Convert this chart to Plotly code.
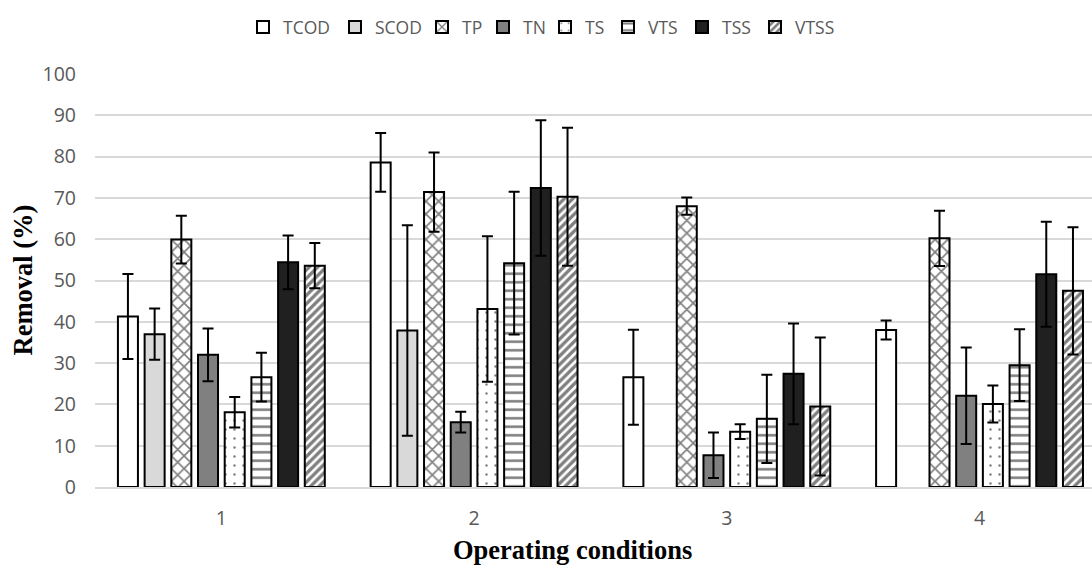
import plotly.graph_objects as go

conditions = ["1", "2", "3", "4"]
series = ["TCOD", "SCOD", "TP", "TN", "TS", "VTS", "TSS", "VTSS"]

tcod = [41.3, 78.6, 26.6, 38.0]
tcod_err = [10.3, 7.1, 11.5, 2.3]
scod = [37.0, 37.9, None, None]
scod_err = [6.2, 25.5, 0, 0]
tp = [59.9, 71.4, 68.0, 60.2]
tp_err = [5.8, 9.6, 2.1, 6.7]
tn = [32.0, 15.7, 7.7, 22.1]
tn_err = [6.4, 2.5, 5.5, 11.7]
ts = [18.1, 43.1, 13.4, 20.1]
ts_err = [3.7, 17.6, 1.8, 4.5]
vts = [26.6, 54.2, 16.5, 29.5]
vts_err = [5.9, 17.3, 10.7, 8.7]
tss = [54.4, 72.4, 27.4, 51.5]
tss_err = [6.5, 16.4, 12.2, 12.7]
vtss = [53.6, 70.3, 19.5, 47.5]
vtss_err = [5.5, 16.7, 16.7, 15.4]

values = [tcod, scod, tp, tn, ts, vts, tss, vtss]
errors = [tcod_err, scod_err, tp_err, tn_err, ts_err, vts_err, tss_err, vtss_err]

fills = ["#ffffff", "#d9d9d9", "#ffffff", "#808080", "#ffffff", "#ffffff", "#202020", "#ffffff"]
patterns = [
    dict(shape=""),
    dict(shape=""),
    dict(shape="x", fgcolor="#000000", bgcolor="#ffffff", fillmode="overlay", size=9, solidity=0.33),
    dict(shape=""),
    dict(shape=".", fgcolor="#000000", bgcolor="#ffffff", fillmode="overlay", size=9, solidity=0.06),
    dict(shape="-", fgcolor="#000000", bgcolor="#ffffff", fillmode="overlay", size=8.5, solidity=0.3),
    dict(shape=""),
    dict(shape="/", fgcolor="#000000", bgcolor="#ffffff", fillmode="overlay", size=6, solidity=0.55),
]
# text-start x (px) of each legend entry in the reference
legend_text_x = [288, 380, 467, 528, 590, 653, 727, 800]

W, H = 1092, 567
L, T, B = 95, 74, 80
plot_w, plot_h = W - L, H - T - B

fig = go.Figure()
for i, (name, v, e, fc, pat) in enumerate(zip(series, values, errors, fills, patterns)):
    lg = "legend" if i == 0 else f"legend{i+1}"
    fig.add_trace(go.Bar(
        name=name, x=conditions, y=v, legend=lg,
        marker=dict(color=fc, line=dict(color="#000000", width=2), pattern=pat),
        error_y=dict(type="data", array=e, visible=True, color="#000000", thickness=2, width=5.5),
    ))
    fig.update_layout({lg: dict(
        xref="container", yref="container",
        x=(legend_text_x[i] - 45) / W, xanchor="left",
        y=1 - 27 / H, yanchor="middle",
        font=dict(family="Open Sans", size=17.5, color="#595959"),
        bgcolor="rgba(0,0,0,0)", borderwidth=0,
    )})

fig.update_layout(
    barmode="group", bargap=0.155, bargroupgap=0.25,
    width=W, height=H,
    paper_bgcolor="#ffffff", plot_bgcolor="#ffffff",
    margin=dict(l=L, r=0, t=T, b=B, autoexpand=False),
    font=dict(family="Open Sans", size=19.5, color="#595959"),
    showlegend=True,
    annotations=[
        dict(text="<b>Removal (%)</b>", textangle=-90, showarrow=False,
             xref="paper", yref="paper", x=(22 - L) / plot_w, y=0.5,
             xanchor="center", yanchor="middle",
             font=dict(family="Liberation Serif", size=26.5, color="#000000")),
        dict(text="<b>Operating conditions</b>", showarrow=False,
             xref="paper", yref="paper", x=(572 - L) / plot_w, y=-(550 - (T + plot_h)) / plot_h,
             xanchor="center", yanchor="middle",
             font=dict(family="Liberation Serif", size=26.5, color="#000000")),
    ],
)
fig.update_yaxes(range=[0, 100], dtick=10, showgrid=True, gridcolor="#d9d9d9", gridwidth=1.5,
                 zeroline=False, showline=False, ticks="", ticklabelstandoff=18,
                 tickfont=dict(family="Open Sans", size=19.5, color="#595959"))
fig.update_xaxes(range=[-0.5, 3.445], showline=True, linecolor="#d9d9d9", linewidth=1.5, ticks="",
                 ticklabelstandoff=13,
                 tickfont=dict(family="Open Sans", size=19.5, color="#595959"))

fig.write_html("out.html", config={"displayModeBar": False},
               post_script="document.body.style.margin='0px';")
